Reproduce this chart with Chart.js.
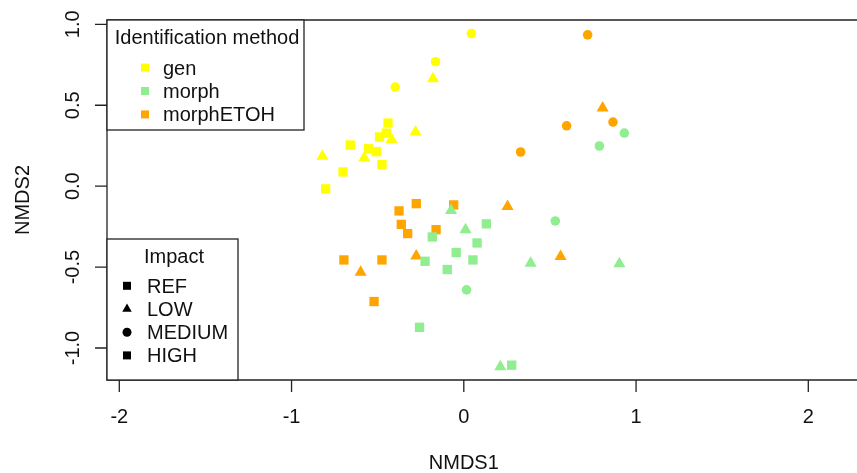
<!DOCTYPE html>
<html>
<head>
<meta charset="utf-8">
<script src="https://cdn.jsdelivr.net/npm/chart.js@4.4.1/dist/chart.umd.min.js"></script>
<style>
  html, body { margin: 0; padding: 0; background: #fff; }
  #wrap { width: 857px; height: 473px; }
</style>
</head>
<body>
<div id="wrap"><canvas id="nmdsPlot"></canvas></div>
<script>
// NMDS site scores, coloured by identification method, shaped by impact level
const methods = ["gen", "morph", "morphETOH"];
const methodColors = ["#FFFF00", "#90EE90", "#FFA500"];
const impactLevels = ["REF", "LOW", "MEDIUM", "HIGH"];

const genX = [-0.440, -0.450, -0.489, -0.659, -0.553, -0.508, -0.475, -0.701, -0.802,
  -0.179, -0.280, -0.419, -0.578, -0.821, 0.044, -0.164, -0.398];
const genY = [0.390, 0.328, 0.304, 0.254, 0.231, 0.213, 0.133, 0.088, -0.017,
  0.664, 0.334, 0.288, 0.174, 0.184, 0.943, 0.769, 0.612];
const genImpact = ["REF", "REF", "REF", "REF", "REF", "REF", "REF", "REF", "REF",
  "LOW", "LOW", "LOW", "LOW", "LOW", "MEDIUM", "MEDIUM", "MEDIUM"];

const morphX = [0.131, -0.183, 0.077, -0.044, -0.225, 0.053, -0.096, -0.257, 0.278,
  -0.074, 0.010, 0.388, 0.903, 0.212, 0.531, 0.016, 0.932, 0.787];
const morphY = [-0.233, -0.314, -0.351, -0.410, -0.464, -0.456, -0.515, -0.872, -1.106,
  -0.151, -0.270, -0.476, -0.480, -1.116, -0.215, -0.641, 0.328, 0.248];
const morphImpact = ["REF", "REF", "REF", "REF", "REF", "REF", "REF", "REF", "REF",
  "LOW", "LOW", "LOW", "LOW", "LOW", "MEDIUM", "MEDIUM", "MEDIUM", "MEDIUM"];

const etohX = [-0.276, -0.059, -0.376, -0.363, -0.326, -0.161, -0.696, -0.475, -0.521,
  0.254, -0.276, 0.562, -0.599, 0.806, 0.719, 0.866, 0.597, 0.330];
const etohY = [-0.108, -0.116, -0.153, -0.236, -0.293, -0.269, -0.456, -0.456, -0.713,
  -0.126, -0.431, -0.435, -0.532, 0.483, 0.935, 0.396, 0.373, 0.211];
const etohImpact = ["REF", "REF", "REF", "REF", "REF", "REF", "REF", "REF", "REF",
  "LOW", "LOW", "LOW", "LOW", "LOW", "MEDIUM", "MEDIUM", "MEDIUM", "MEDIUM"];

const xTicks = [-2, -1, 0, 1, 2];
const yTicks = [-1, -0.5, 0, 0.5, 1];
const yTickLabels = ["-1.0", "-0.5", "0.0", "0.5", "1.0"];

// pch 15 / 17 / 16 / 15
const impactStyle = { REF: "rect", LOW: "triangle", MEDIUM: "circle", HIGH: "rect" };
const styleRadius = { rect: 6.6, triangle: 7, circle: 4.8 };

const FONT = '20px "Liberation Sans", Arial, sans-serif';
const INK = "#111";

function makeDataset(label, color, xs, ys, impact, order) {
  const styles = impact.map(k => impactStyle[k]);
  return {
    label: label,
    data: xs.map((x, i) => ({ x: x, y: ys[i] })),
    backgroundColor: color,
    pointStyle: styles,
    pointRadius: styles.map(s => styleRadius[s]),
    pointBorderWidth: 0,
    order: order,
  };
}

function drawSymbol(ctx, style, x, y, color) {
  ctx.fillStyle = color;
  ctx.beginPath();
  if (style === "rect") {
    ctx.rect(x - 4, y - 4, 8, 8);
  } else if (style === "triangle") {
    const r = 5.5;
    ctx.moveTo(x, y - r);
    ctx.lineTo(x + r * 0.866, y + r / 2);
    ctx.lineTo(x - r * 0.866, y + r / 2);
    ctx.closePath();
  } else {
    ctx.arc(x, y, 4.5, 0, Math.PI * 2);
  }
  ctx.fill();
}

// R-style box, axes and the two legends
const basePlotPlugin = {
  id: "basePlot",
  afterDraw(chart) {
    const ctx = chart.ctx;
    const area = chart.chartArea;
    const xs = chart.scales.x;
    const ys = chart.scales.y;
    ctx.save();

    ctx.strokeStyle = "#222";
    ctx.lineWidth = 1.3;
    ctx.beginPath();
    ctx.moveTo(area.right + 5, area.top);
    ctx.lineTo(area.left, area.top);
    ctx.lineTo(area.left, area.bottom);
    ctx.lineTo(area.right + 5, area.bottom);
    ctx.stroke();

    ctx.font = FONT;
    ctx.fillStyle = INK;

    // x axis
    ctx.textAlign = "center";
    ctx.textBaseline = "alphabetic";
    ctx.beginPath();
    xTicks.forEach(v => {
      const px = xs.getPixelForValue(v);
      ctx.moveTo(px, area.bottom);
      ctx.lineTo(px, area.bottom + 12);
    });
    ctx.stroke();
    xTicks.forEach(v => {
      ctx.fillText(String(v), xs.getPixelForValue(v), area.bottom + 43);
    });
    ctx.fillText("NMDS1", xs.getPixelForValue(0), 469);

    // y axis, labels turned like las = 0
    ctx.beginPath();
    yTicks.forEach(v => {
      const py = ys.getPixelForValue(v);
      ctx.moveTo(area.left, py);
      ctx.lineTo(area.left - 12, py);
    });
    ctx.stroke();
    yTicks.forEach((v, i) => {
      ctx.save();
      ctx.translate(79, ys.getPixelForValue(v));
      ctx.rotate(-Math.PI / 2);
      ctx.fillText(yTickLabels[i], 0, 0);
      ctx.restore();
    });
    ctx.save();
    ctx.translate(29, (area.top + area.bottom) / 2);
    ctx.rotate(-Math.PI / 2);
    ctx.fillText("NMDS2", 0, 0);
    ctx.restore();

    // legend: identification method
    ctx.fillStyle = "#fff";
    ctx.fillRect(area.left, area.top, 197, 110);
    ctx.strokeRect(area.left, area.top, 197, 110);
    ctx.fillStyle = INK;
    ctx.textAlign = "center";
    ctx.fillText("Identification method", area.left + 100, 43.7);
    ctx.textAlign = "left";
    methods.forEach((m, i) => {
      const y = 67.6 + i * 23.4;
      drawSymbol(ctx, "rect", 145, y, methodColors[i]);
      ctx.fillStyle = INK;
      ctx.fillText(m, 163, y + 7);
    });

    // legend: impact
    ctx.fillStyle = "#fff";
    ctx.fillRect(area.left, 239, 131, area.bottom - 239);
    ctx.strokeRect(area.left, 239, 131, area.bottom - 239);
    ctx.fillStyle = INK;
    ctx.textAlign = "center";
    ctx.fillText("Impact", 174, 262.7);
    ctx.textAlign = "left";
    impactLevels.forEach((k, i) => {
      const y = 285.8 + i * 23.2;
      drawSymbol(ctx, impactStyle[k], 127, y, "#000");
      ctx.fillStyle = INK;
      ctx.fillText(k, 147, y + 7);
    });

    ctx.restore();
  }
};

document.addEventListener("DOMContentLoaded", () => {
  const ctx = document.getElementById("nmdsPlot").getContext("2d");

  new Chart(ctx, {
    type: "scatter",
    data: {
      datasets: [
        makeDataset(methods[1], methodColors[1], morphX, morphY, morphImpact, 0),
        makeDataset(methods[2], methodColors[2], etohX, etohY, etohImpact, 1),
        makeDataset(methods[0], methodColors[0], genX, genY, genImpact, 2),
      ],
    },
    options: {
      responsive: true,
      maintainAspectRatio: false,
      animation: false,
      events: [],
      layout: { autoPadding: false, padding: { left: 107, top: 20, right: 0, bottom: 93 } },
      scales: {
        x: { type: "linear", min: -2.0714, max: 2.2827, display: false },
        y: { type: "linear", min: -1.1977, max: 1.0266, display: false },
      },
      plugins: {
        legend: { display: false },
        tooltip: { enabled: false },
      },
    },
    plugins: [basePlotPlugin],
  });
});
</script>
</body>
</html>
